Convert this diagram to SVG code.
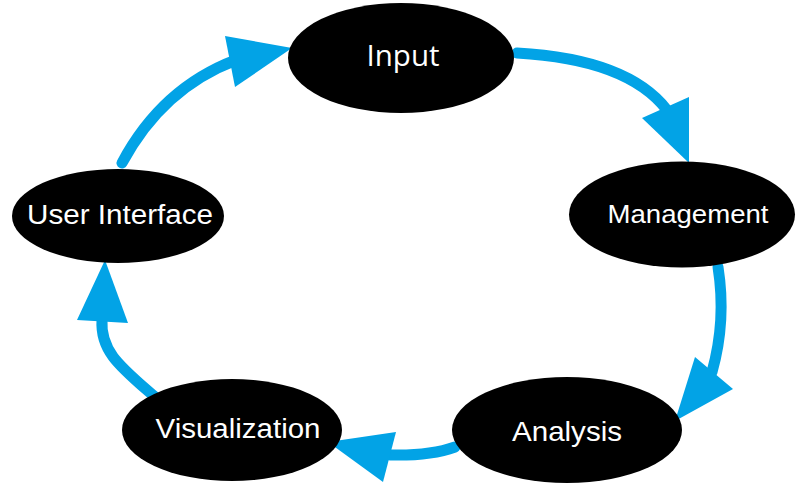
<svg xmlns="http://www.w3.org/2000/svg" width="800" height="490" viewBox="0 0 800 490">
<style>
.node ellipse{fill:#000}
.node text{fill:#fff;font-family:"Liberation Sans",Arial,sans-serif;text-anchor:middle}
.conn path{fill:none;stroke:#02A3E6;stroke-width:11;stroke-linecap:round}
.conn polygon{fill:#02A3E6}
</style>
<rect width="800" height="490" fill="#fff"/>
<g id="connectors" class="conn">
<path d="M122,163 Q162,88 236,60"/>
<polygon points="292,48 225,36 235,87"/>
<path d="M517,53 C590,57 640,75 667,110"/>
<polygon points="689,163 642,118 689,97"/>
<path d="M718,267 C724,305 721,340 712,372"/>
<polygon points="675,421 695,357 733,389"/>
<path d="M455,447 Q430,456 390,455"/>
<polygon points="328,442 396,432 383,482"/>
<path d="M155,397 C122,368 100,352 102,320"/>
<polygon points="105,260 77,320 128,323"/>
</g>
<g id="input" class="node">
<ellipse cx="401" cy="58" rx="113" ry="55"/>
<text x="403" y="66" style="font-family:'Open Sans',sans-serif" font-size="30" textLength="73" lengthAdjust="spacingAndGlyphs">Input</text>
</g>
<g id="management" class="node">
<ellipse cx="682" cy="214.5" rx="113" ry="53"/>
<text x="688" y="223" font-size="25" textLength="161" lengthAdjust="spacingAndGlyphs">Management</text>
</g>
<g id="analysis" class="node">
<ellipse cx="567" cy="430" rx="115" ry="53"/>
<text x="567" y="441" font-size="28" textLength="110" lengthAdjust="spacingAndGlyphs">Analysis</text>
</g>
<g id="visualization" class="node">
<ellipse cx="232" cy="430" rx="110" ry="51"/>
<text x="238" y="438" font-size="27" textLength="165" lengthAdjust="spacingAndGlyphs">Visualization</text>
</g>
<g id="user-interface" class="node">
<ellipse cx="118" cy="216" rx="106" ry="47"/>
<text x="120" y="224" font-size="27" textLength="186" lengthAdjust="spacingAndGlyphs">User Interface</text>
</g>
</svg>
